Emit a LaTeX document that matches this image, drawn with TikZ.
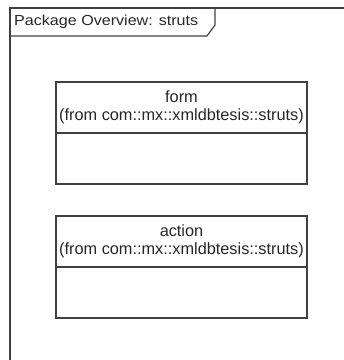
\documentclass[tikz,border=0pt]{standalone}
\usepackage{fontspec}
\setmainfont{Liberation Sans}
\begin{document}
\begin{tikzpicture}[x=1pt,y=-1pt,
	uml/.style={draw=black!75,line width=1.2pt},
	umltext/.style={inner sep=0pt,font=\fontsize{16.3}{18}\selectfont,text=black!85}]
		\useasboundingbox (0,0) rectangle (344,360);
		% frame and tab
		\draw[uml] (10,360) -- (10,8) -- (344,8);
		\draw[uml] (10,36) -- (207,36) -- (215,25) -- (215,8);
		\node[umltext,anchor=west,font=\fontsize{14.5}{16}\selectfont] (title) at (14,22) {\scalebox{1.11}[1]{Package Overview: struts}};
		
		% class form
		\draw[uml] (56,82) rectangle (307,184); \draw[uml] (56,133) -- (307,133);
		\node[umltext] (form) at (181.5,97) {form};
		\node[umltext] (formfrom) at (181.5,116) {(from com::mx::xmldbtesis::struts)};
		
		% class action
		\draw[uml] (56,216) rectangle (307,318); \draw[uml] (56,267) -- (307,267);
		\node[umltext] (action) at (181.5,231) {action};
		\node[umltext] (actionfrom) at (181.5,250) {(from com::mx::xmldbtesis::struts)};
	\end{tikzpicture}
\end{document}
